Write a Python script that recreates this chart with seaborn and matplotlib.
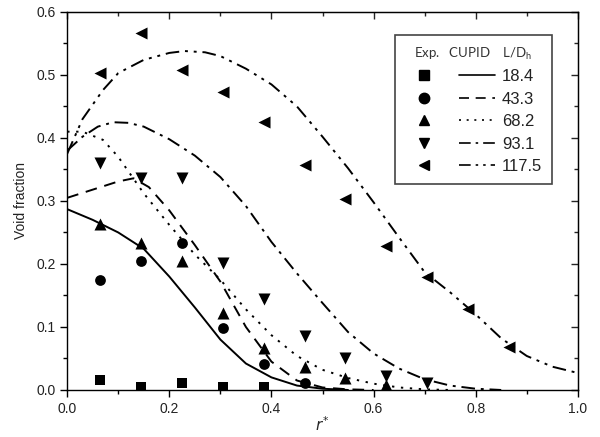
import numpy as np
import pandas as pd
import seaborn as sns
import matplotlib
matplotlib.use("Agg")
import matplotlib.pyplot as plt
from matplotlib.lines import Line2D
from matplotlib.legend_handler import HandlerTuple
from matplotlib.ticker import MultipleLocator

# ---------------- data ----------------
ld_labels = ["18.4", "43.3", "68.2", "93.1", "117.5"]

# experimental points (r*, void fraction)
exp_r_184 = [0.065, 0.145, 0.225, 0.305, 0.385]
exp_a_184 = [0.016, 0.005, 0.011, 0.005, 0.005]

exp_r_433 = [0.065, 0.145, 0.225, 0.305, 0.385, 0.465]
exp_a_433 = [0.175, 0.204, 0.233, 0.099, 0.041, 0.011]

exp_r_682 = [0.065, 0.145, 0.225, 0.305, 0.385, 0.465, 0.545, 0.625]
exp_a_682 = [0.263, 0.233, 0.205, 0.122, 0.066, 0.037, 0.019, 0.008]

exp_r_931 = [0.065, 0.145, 0.225, 0.305, 0.385, 0.465, 0.545, 0.625, 0.705]
exp_a_931 = [0.360, 0.336, 0.336, 0.202, 0.144, 0.085, 0.051, 0.022, 0.011]

exp_r_1175 = [0.065, 0.145, 0.225, 0.305, 0.385, 0.465, 0.545, 0.625, 0.705, 0.785, 0.865]
exp_a_1175 = [0.503, 0.567, 0.508, 0.473, 0.425, 0.357, 0.303, 0.229, 0.179, 0.128, 0.068]

# CUPID calculations
cup_r_184 = [0.0, 0.05, 0.10, 0.15, 0.20, 0.25, 0.30, 0.35, 0.40, 0.45, 0.50, 0.55]
cup_a_184 = [0.287, 0.270, 0.250, 0.224, 0.180, 0.131, 0.080, 0.042, 0.020, 0.007, 0.002, 0.0]

cup_r_433 = [0.0, 0.05, 0.10, 0.13, 0.16, 0.20, 0.25, 0.30, 0.35, 0.40, 0.45, 0.50, 0.55, 0.60]
cup_a_433 = [0.305, 0.318, 0.331, 0.336, 0.322, 0.285, 0.230, 0.172, 0.100, 0.045, 0.015, 0.004, 0.001, 0.0]

cup_r_682 = [0.0, 0.03, 0.07, 0.10, 0.15, 0.20, 0.25, 0.30, 0.35, 0.40, 0.45, 0.50, 0.55, 0.60, 0.65, 0.70, 0.75]
cup_a_682 = [0.410, 0.410, 0.397, 0.370, 0.312, 0.262, 0.215, 0.175, 0.128, 0.087, 0.054, 0.032, 0.019, 0.010, 0.004, 0.001, 0.0]

cup_r_931 = [0.0, 0.03, 0.06, 0.09, 0.12, 0.15, 0.20, 0.25, 0.30, 0.35, 0.40, 0.45, 0.50, 0.55, 0.60, 0.65, 0.70, 0.75, 0.80, 0.85]
cup_a_931 = [0.380, 0.402, 0.418, 0.425, 0.424, 0.418, 0.398, 0.372, 0.338, 0.292, 0.235, 0.185, 0.138, 0.092, 0.058, 0.034, 0.017, 0.007, 0.002, 0.0]

cup_r_1175 = [0.0, 0.03, 0.07, 0.10, 0.15, 0.20, 0.23, 0.27, 0.30, 0.35, 0.40, 0.45, 0.50, 0.55, 0.60, 0.65, 0.70, 0.75, 0.80, 0.85, 0.90, 0.95, 1.0]
cup_a_1175 = [0.375, 0.430, 0.476, 0.503, 0.524, 0.535, 0.538, 0.536, 0.530, 0.510, 0.485, 0.450, 0.402, 0.352, 0.298, 0.242, 0.187, 0.155, 0.120, 0.082, 0.054, 0.037, 0.027]

exp_r = [exp_r_184, exp_r_433, exp_r_682, exp_r_931, exp_r_1175]
exp_a = [exp_a_184, exp_a_433, exp_a_682, exp_a_931, exp_a_1175]
cup_r = [cup_r_184, cup_r_433, cup_r_682, cup_r_931, cup_r_1175]
cup_a = [cup_a_184, cup_a_433, cup_a_682, cup_a_931, cup_a_1175]

# ---------------- style ----------------
sns.set_style("ticks")
plt.rcParams["font.family"] = ["Liberation Sans", "DejaVu Sans"]

markers = ["s", "o", "^", "v", "<"]
msizes = [55, 60, 75, 75, 75]
linestyles = ["-", (0, (6, 4)), (0, (1.2, 3.4)), (0, (7, 3, 1.5, 3)), (0, (7, 3, 1.5, 3, 1.5, 3))]

fig = plt.figure(figsize=(6.0, 4.37), dpi=100)
ax = fig.add_axes([0.112, 0.1076, 0.851, 0.865])

for i in range(5):
    df_c = pd.DataFrame({"r": cup_r[i], "a": cup_a[i]})
    sns.lineplot(data=df_c, x="r", y="a", color="black", linewidth=1.4,
                 linestyle=linestyles[i], sort=False, estimator=None, ax=ax)
    df_e = pd.DataFrame({"r": exp_r[i], "a": exp_a[i]})
    sns.scatterplot(data=df_e, x="r", y="a", color="black", marker=markers[i],
                    s=msizes[i], edgecolor="black", linewidth=0, ax=ax, zorder=5)

ax.set_xlim(0.0, 1.0)
ax.set_ylim(0.0, 0.6)
ax.xaxis.set_major_locator(MultipleLocator(0.2))
ax.xaxis.set_minor_locator(MultipleLocator(0.1))
ax.yaxis.set_major_locator(MultipleLocator(0.1))
ax.yaxis.set_minor_locator(MultipleLocator(0.05))
ax.xaxis.set_major_formatter(matplotlib.ticker.FormatStrFormatter("%.1f"))
ax.yaxis.set_major_formatter(matplotlib.ticker.FormatStrFormatter("%.1f"))

ax.tick_params(axis="both", which="major", direction="out", length=5, width=1,
               labelsize=10, color="black", labelcolor="#222222")
ax.tick_params(axis="both", which="minor", direction="out", length=3, width=1, color="black")
for sp in ax.spines.values():
    sp.set_visible(True)
    sp.set_linewidth(1.0)
    sp.set_color("black")

# inward ticks on the right and top sides
sec_y = ax.secondary_yaxis("right")
sec_y.yaxis.set_major_locator(MultipleLocator(0.1))
sec_y.yaxis.set_minor_locator(MultipleLocator(0.05))
sec_y.tick_params(which="major", direction="in", length=5, width=1, labelright=False)
sec_y.tick_params(which="minor", direction="in", length=3, width=1)
sec_x = ax.secondary_xaxis("top")
sec_x.xaxis.set_major_locator(MultipleLocator(0.2))
sec_x.xaxis.set_minor_locator(MultipleLocator(0.1))
sec_x.tick_params(which="major", direction="in", length=5, width=1, labeltop=False)
sec_x.tick_params(which="minor", direction="in", length=3, width=1)

ax.set_ylabel("Void fraction", fontsize=10, labelpad=6, color="#222222")
ax.set_xlabel("$r^{*}$", fontsize=11, labelpad=0)

# legend
handles = []
for i in range(5):
    mh = Line2D([], [], color="black", marker=markers[i], linestyle="none", markersize=7.5)
    lh = Line2D([], [], color="black", linestyle=linestyles[i], linewidth=1.2)
    handles.append((mh, lh))
leg = ax.legend(handles, ld_labels, handler_map={tuple: HandlerTuple(ndivide=2, pad=1.0)},
                loc="upper right", bbox_to_anchor=(0.966, 0.96), frameon=True,
                fancybox=False, edgecolor="#444444", framealpha=1, fontsize=12,
                handlelength=5.4, handletextpad=0.4, labelspacing=0.45,
                title="Exp.   CUPID    L/D$_\\mathregular{h}$", borderpad=0.6)
leg.get_title().set_fontsize(9.5)
leg.get_title().set_family(["Lato", "DejaVu Sans"])
leg.get_title().set_color("#333333")
for t in leg.get_texts():
    t.set_color("#222222")
leg.get_frame().set_linewidth(1.2)

fig.savefig("out.png", dpi=100)
